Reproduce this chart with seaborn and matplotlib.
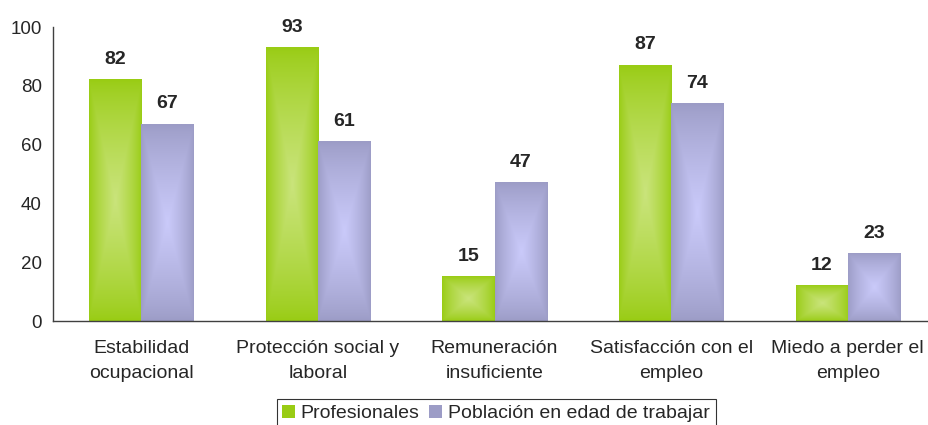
import numpy as np
import pandas as pd
import seaborn as sns
import matplotlib.pyplot as plt
from matplotlib.colors import to_rgb

categorias = ["Estabilidad\nocupacional", "Protección social y\nlaboral",
              "Remuneración\ninsuficiente", "Satisfacción con el\nempleo",
              "Miedo a perder el\nempleo"]
profesionales = [82, 93, 15, 87, 12]
poblacion = [67, 61, 47, 74, 23]
series = ["Profesionales", "Población en edad de trabajar"]

edge_cols = ["#99cc14", "#9c9cc6"]
center_cols = ["#cae47c", "#cacafa"]

df = pd.DataFrame({
    "cat": categorias * 2,
    "serie": [series[0]] * 5 + [series[1]] * 5,
    "valor": profesionales + poblacion,
})

sns.set_style("white")
plt.rcParams["font.family"] = ["Liberation Sans", "DejaVu Sans"]

fig = plt.figure(figsize=(9.29, 4.25), dpi=100)
ax = fig.add_axes([53 / 929, 1 - 321 / 425, 883 / 929, 294 / 425])

sns.barplot(data=df, x="cat", y="valor", hue="serie", palette=edge_cols,
            width=0.59, saturation=1, ax=ax, legend=True)

# gradient fill ("from center" shading)
n = 120
u = np.linspace(-1, 1, n)
U, V = np.meshgrid(u, u)
t = (1 - np.maximum(np.abs(U), np.abs(V))) ** 0.8
for i, cont in enumerate(ax.containers):
    e = np.array(to_rgb(edge_cols[i]))
    c = np.array(to_rgb(center_cols[i]))
    img = e + (c - e) * t[..., None]
    for p in cont.patches:
        x0, y0 = p.get_x(), p.get_y()
        w, h = p.get_width(), p.get_height()
        ax.imshow(img, extent=[x0, x0 + w, y0, y0 + h], aspect="auto",
                  origin="lower", zorder=p.get_zorder(), interpolation="bilinear")
        p.set_facecolor("none")
        p.set_edgecolor("none")
    ax.bar_label(cont, fmt="%d", padding=8.5, fontsize=14, fontweight="bold")

ax.set_xlim(-0.5, 4.5)
ax.set_ylim(0, 100)
ax.set_yticks(range(0, 101, 20))
ax.set_xlabel("")
ax.set_ylabel("")
ax.set_xticks(range(5))
ax.set_xticklabels(categorias, fontsize=14, linespacing=1.6)
ax.set_xticks(np.arange(-0.5, 4.6, 1), minor=True)
ax.tick_params(axis="x", which="major", length=0, pad=14)
ax.tick_params(axis="x", which="minor", length=5, direction="out", color="#404040", width=1)
ax.tick_params(axis="y", length=5, direction="out", color="#404040", width=1, labelsize=13.5, pad=3)
ax.set_aspect("auto")
for s in ["top", "right"]:
    ax.spines[s].set_visible(False)
for s in ["left", "bottom"]:
    ax.spines[s].set_color("#404040")
    ax.spines[s].set_linewidth(1)

ax.get_legend().remove()
handles = [plt.Rectangle((0, 0), 1, 1, facecolor=col, edgecolor="none") for col in edge_cols]
leg = fig.legend(handles, series, loc="upper center", bbox_to_anchor=(0.534, 1 - 399 / 425),
                 ncol=2, fontsize=14, frameon=True, fancybox=False, handlelength=0.65,
                 handleheight=0.65, handletextpad=0.3, columnspacing=0.5,
                 borderpad=0.3, borderaxespad=0)
leg.get_frame().set_edgecolor("black")
leg.get_frame().set_linewidth(0.8)

fig.savefig("out.png", dpi=100)
